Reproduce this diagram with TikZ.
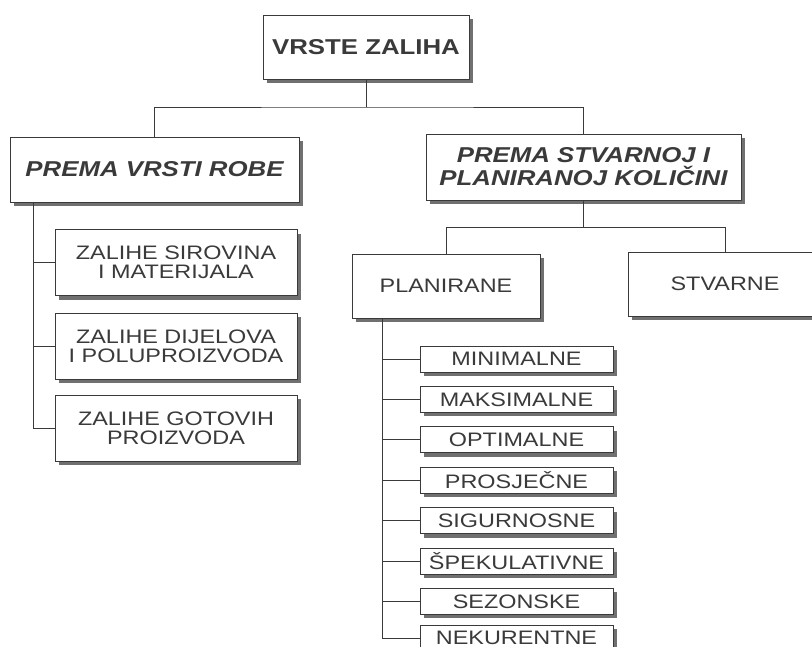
\documentclass[tikz,border=0pt]{standalone}
\usepackage{fontspec}
\setmainfont[FakeStretch=1.2]{Liberation Sans}
\usetikzlibrary{positioning,shadows}
\definecolor{tinta}{HTML}{3A3A3A}
\definecolor{sjena}{HTML}{707070}
\tikzset{
    kutija/.style={
           rectangle,
           draw=tinta, line width=0.9pt,
           fill=white,
           drop shadow={shadow xshift=4pt, shadow yshift=-4pt, fill=sjena, opacity=1},
           text=tinta,
           align=center,
           inner sep=0pt},
    glavna/.style={
           kutija,
           minimum width=206pt, minimum height=64pt,
           font=\bfseries\fontsize{21.5}{23}\selectfont},
    grupa/.style={
           kutija,
           minimum height=65pt,
           font=\bfseries\itshape\fontsize{21.5}{23}\selectfont},
    stavka/.style={
           kutija,
           minimum width=242pt, minimum height=66pt,
           font=\fontsize{19.5}{18.5}\selectfont},
    mala/.style={
           kutija,
           minimum width=193pt, minimum height=26pt,
           font=\fontsize{19.5}{18.5}\selectfont},
    veza/.style={
           draw=tinta,
           line width=0.9pt}
}
\begin{document}
\begin{tikzpicture}[x=1pt, y=1pt, node distance=13.5pt]
        \useasboundingbox (0,0) rectangle (812,-646);
        \node[glavna] (vrh) at (366,-47) {VRSTE ZALIHA};
        \node[grupa, minimum width=289pt] (vrsta) at (154.5,-169.5) {PREMA VRSTI ROBE};
        \node[grupa, minimum width=315pt, minimum height=66pt] (kolicina) at (583.5,-167) {PREMA STVARNOJ I\\PLANIRANOJ KOLIČINI};
        \node[stavka, minimum width=188pt, minimum height=64pt] (plan) at (446,-286) {PLANIRANE};
        \node[stavka, minimum width=194pt, minimum height=64pt] (stv) at (725,-284) {STVARNE};

        \node[stavka] (zal1) at (176,-262.5) {ZALIHE SIROVINA\\I MATERIJALA};
        \node[stavka, below=17pt of zal1] (zal2) {ZALIHE DIJELOVA\\I POLUPROIZVODA};
        \node[stavka, below=15pt of zal2] (zal3) {ZALIHE GOTOVIH\\PROIZVODA};

        \node[mala] (m1) at (516.5,-359) {MINIMALNE};
        \node[mala, below=of m1] (m2) {MAKSIMALNE};
        \node[mala, below=of m2] (m3) {OPTIMALNE};
        \node[mala, below=of m3] (m4) {PROSJEČNE};
        \node[mala, below=of m4] (m5) {SIGURNOSNE};
        \node[mala, below=of m5] (m6) {ŠPEKULATIVNE};
        \node[mala, below=of m6] (m7) {SEZONSKE};
        \node[mala, below=10pt of m7] (m8) {NEKURENTNE};

        \coordinate (r1) at (366,-107);
        \draw[veza] (vrh) -- (r1);
        \draw[veza] (vrsta) |- (r1) -| (kolicina);
        \draw[veza] (kolicina.south) -- ++(0,-27) coordinate (r2);
        \draw[veza] (plan) |- (r2) -| (stv);

        \coordinate (l) at ([xshift=24pt]vrsta.south west);
        \draw[veza] (l) |- (zal3.west);
        \draw[veza] (l |- zal1.west) -- (zal1.west);
        \draw[veza] (l |- zal2.west) -- (zal2.west);

        \coordinate (p) at ([xshift=31pt]plan.south west);
        \draw[veza] (p) |- (m8.west);
        \draw[veza] (p |- m1.west) -- (m1.west);
        \draw[veza] (p |- m2.west) -- (m2.west);
        \draw[veza] (p |- m3.west) -- (m3.west);
        \draw[veza] (p |- m4.west) -- (m4.west);
        \draw[veza] (p |- m5.west) -- (m5.west);
        \draw[veza] (p |- m6.west) -- (m6.west);
        \draw[veza] (p |- m7.west) -- (m7.west);
    \end{tikzpicture}
\end{document}
